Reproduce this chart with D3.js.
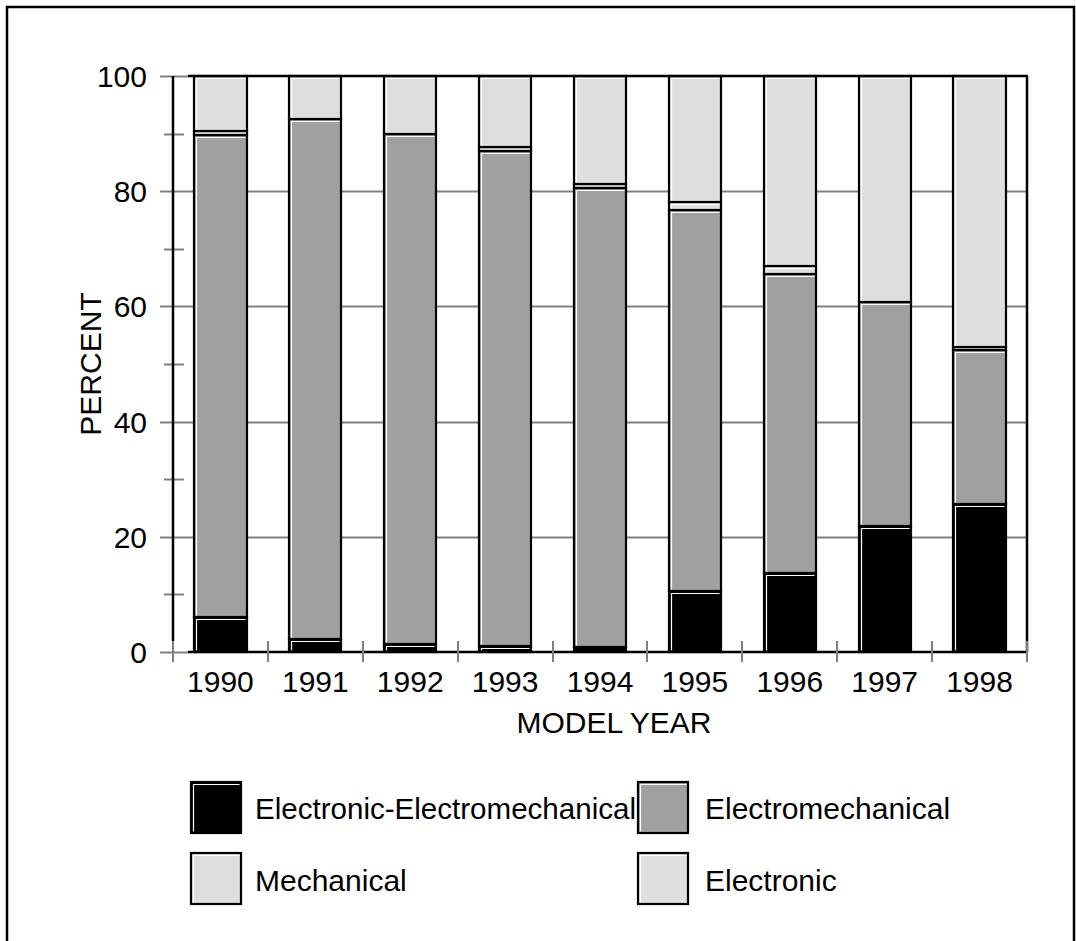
<!DOCTYPE html>
<html>
<head>
<meta charset="utf-8">
<script src="https://cdn.jsdelivr.net/npm/d3@7"></script>
<style>
  html, body { margin: 0; padding: 0; background: #fff; }
  svg { display: block; font-family: "Liberation Sans", Arial, sans-serif; }
</style>
</head>
<body>
<svg id="chart" width="1076" height="941"></svg>
<script>
// ---- data ----
const years = ["1990", "1991", "1992", "1993", "1994", "1995", "1996", "1997", "1998"];
const electronicElectromechanical = [6.0, 2.3, 1.4, 1.1, 0.8, 10.6, 13.7, 21.9, 25.7];
const electromechanical = [83.7, 90.3, 88.5, 85.9, 79.8, 66.2, 52.0, 38.9, 26.7];
const mechanical = [0.7, 0.0, 0.0, 0.6, 0.6, 1.3, 1.4, 0.0, 0.6];
const electronic = [9.6, 7.4, 10.1, 12.4, 18.8, 21.9, 32.9, 39.2, 47.0];
const yTicks = [0, 20, 40, 60, 80, 100];
const yMinorTicks = [10, 30, 50, 70, 90];
const seriesNames = ["Electronic-Electromechanical", "Electromechanical", "Mechanical", "Electronic"];
const seriesColors = ["#000000", "#a0a0a0", "#dedede", "#dedede"];

(function () {
const rows = years.map((yr, i) => ({
  year: yr,
  "Electronic-Electromechanical": electronicElectromechanical[i],
  "Electromechanical": electromechanical[i],
  "Mechanical": mechanical[i],
  "Electronic": electronic[i]
}));

const svg = d3.select("#chart");

// outer frame
svg.append("rect").attr("x", 7).attr("y", 7).attr("width", 1067).attr("height", 1000)
  .attr("fill", "none").attr("stroke", "#000").attr("stroke-width", 2.5);

const pLeft = 173, pRight = 1027, pTop = 76, pBottom = 652;
const x = d3.scaleBand().domain(years).range([pLeft, pRight]).paddingInner(0.45).paddingOuter(0.225);
const y = d3.scaleLinear().domain([0, 100]).range([pBottom, pTop]);

const font = 30;
const grey = "#808080";

// gridlines / major ticks
svg.append("g").selectAll("line").data(yTicks).join("line")
  .attr("x1", 160).attr("x2", d => (d === 0 || d === 100) ? 188 : pRight)
  .attr("y1", d => Math.round(y(d)) + 0.5).attr("y2", d => Math.round(y(d)) + 0.5)
  .attr("stroke", grey).attr("stroke-width", 2);

// minor ticks
svg.append("g").selectAll("line").data(yMinorTicks).join("line")
  .attr("x1", 164).attr("x2", 184)
  .attr("y1", d => Math.round(y(d)) + 0.5).attr("y2", d => Math.round(y(d)) + 0.5)
  .attr("stroke", grey).attr("stroke-width", 2);

// stacked bars
const stack = d3.stack().keys(seriesNames);
const series = stack(rows);
const bw = x.bandwidth();

series.forEach((s, si) => {
  const g = svg.append("g");
  s.forEach(d => {
    const v = d[1] - d[0];
    if (v <= 0) return;
    const x0 = Math.round(x(d.data.year));
    const x1 = Math.round(x(d.data.year) + bw);
    const yt = Math.round(y(d[1]));
    const yb = Math.round(y(d[0]));
    g.append("rect")
      .attr("x", x0).attr("y", yt).attr("width", x1 - x0).attr("height", Math.max(0.01, yb - yt))
      .attr("fill", seriesColors[si]).attr("stroke", "#000").attr("stroke-width", 2.2);
    if (yb - yt > 5) {
      g.append("path")
        .attr("d", `M${x0 + 2.5},${yb - 1.5} L${x0 + 2.5},${yt + 2.5} L${x1 - 1.5},${yt + 2.5}`)
        .attr("fill", "none").attr("stroke", "#fff").attr("stroke-width", 1.2);
    }
  });
});

// axes frame
const frame = svg.append("g").attr("stroke", "#000").attr("stroke-width", 2.5).attr("fill", "none");
frame.append("line").attr("x1", 188).attr("x2", pRight + 1).attr("y1", pTop).attr("y2", pTop);
frame.append("line").attr("x1", pRight).attr("x2", pRight).attr("y1", pTop).attr("y2", pBottom);
frame.append("line").attr("x1", pLeft).attr("x2", pLeft).attr("y1", pTop).attr("y2", 641);
frame.append("line").attr("x1", 188).attr("x2", pRight + 1).attr("y1", pBottom).attr("y2", pBottom);

// x ticks at band boundaries
const bounds = years.map(yr => x(yr) - x.step() * x.paddingInner() / 2);
bounds.push(pRight);
bounds[0] = pLeft;
svg.append("g").selectAll("line").data(bounds).join("line")
  .attr("x1", d => Math.round(d)).attr("x2", d => Math.round(d))
  .attr("y1", 641).attr("y2", 662)
  .attr("stroke", grey).attr("stroke-width", 2);

// y tick labels
svg.append("g").selectAll("text").data(yTicks).join("text")
  .attr("x", 147).attr("y", d => y(d) + 11)
  .attr("text-anchor", "end").attr("font-size", font).attr("fill", "#000")
  .text(d => d);

// x tick labels
svg.append("g").selectAll("text").data(years).join("text")
  .attr("x", d => x(d) + bw / 2).attr("y", 692)
  .attr("text-anchor", "middle").attr("font-size", font).attr("fill", "#000")
  .text(d => d);

// axis titles
svg.append("text").attr("x", 614).attr("y", 733)
  .attr("text-anchor", "middle").attr("font-size", font).text("MODEL YEAR");
svg.append("text").attr("transform", `translate(101,${(pTop + pBottom) / 2}) rotate(-90)`)
  .attr("text-anchor", "middle").attr("font-size", font).text("PERCENT");

// legend
const legendPos = [
  { bx: 191, by: 782, tx: 255, ty: 819 },
  { bx: 638, by: 782, tx: 705, ty: 819 },
  { bx: 191, by: 853, tx: 255, ty: 891 },
  { bx: 638, by: 853, tx: 705, ty: 891 }
];
const lgBox = svg.append("g");
const lgText = svg.append("g");
seriesNames.forEach((name, i) => {
  const p = legendPos[i];
  lgBox.append("rect").attr("x", p.bx).attr("y", p.by).attr("width", 50).attr("height", 51)
    .attr("fill", seriesColors[i]).attr("stroke", "#000").attr("stroke-width", 2.2);
  lgBox.append("path")
    .attr("d", `M${p.bx + 2.5},${p.by + 49.5} L${p.bx + 2.5},${p.by + 2.5} L${p.bx + 48.5},${p.by + 2.5}`)
    .attr("fill", "none").attr("stroke", "#fff").attr("stroke-width", 1.2);
  const t = lgText.append("text").attr("x", p.tx).attr("y", p.ty).attr("font-size", font).attr("fill", "#000").text(name);
  const maxW = (i % 2 === 0) ? 638 - 2 - p.tx : 1060 - p.tx;
  const w = t.node().getComputedTextLength();
  if (w > maxW) t.attr("textLength", maxW).attr("lengthAdjust", "spacingAndGlyphs");
});
})();
</script>
</body>
</html>
